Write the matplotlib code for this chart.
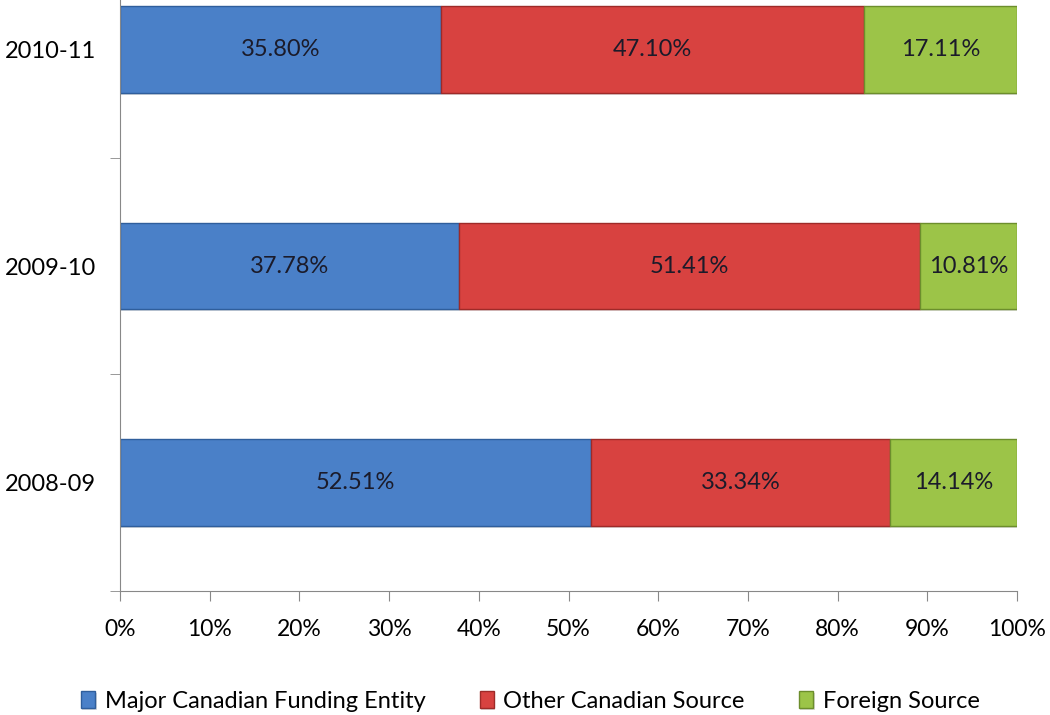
import matplotlib.pyplot as plt
import matplotlib.patheffects as pe
from matplotlib.ticker import FixedLocator, PercentFormatter

plt.rcParams['font.family'] = ['Lato', 'DejaVu Sans']

years = ['2008-09', '2009-10', '2010-11']
major_canadian = [52.51, 37.78, 35.80]
other_canadian = [33.34, 51.41, 47.10]
foreign = [14.14, 10.81, 17.11]

series = [
    ('Major Canadian Funding Entity', major_canadian, '#4a80c8', '#2f5e9c'),
    ('Other Canadian Source', other_canadian, '#d84240', '#9e2a28'),
    ('Foreign Source', foreign, '#9cc448', '#6c8e2c'),
]

fig = plt.figure(figsize=(10.5, 7.15), dpi=100)
ax = fig.add_axes([0.1143, 0.1734, 0.8543, 0.909])

pos = list(range(len(years)))
left = [0.0] * len(years)
shadow = [pe.SimplePatchShadow(offset=(1, -1.5), alpha=0.18), pe.Normal()]
for name, vals, color, edge in series:
    bars = ax.barh(pos, vals, left=left, height=0.40, color=color,
                   edgecolor=edge, linewidth=1.0, label=name)
    for b in bars:
        b.set_path_effects(shadow)
    for i, v in enumerate(vals):
        ax.text(left[i] + v / 2, pos[i], f'{v:.2f}%', ha='center', va='center',
                fontsize=17, color='#1b1b2a')
    left = [l + v for l, v in zip(left, vals)]

ax.set_xlim(0, 100)
ax.set_ylim(-0.5, 2.5)
ax.set_yticks(pos)
ax.set_yticklabels(years, fontsize=17)
ax.yaxis.set_minor_locator(FixedLocator([-0.5, 0.5, 1.5, 2.5]))
ax.tick_params(axis='y', which='major', length=0, pad=17)
ax.tick_params(axis='y', which='minor', length=7, color='#888888', direction='out')
ax.set_xticks(range(0, 101, 10))
ax.xaxis.set_major_formatter(PercentFormatter(decimals=0))
ax.tick_params(axis='x', length=7, color='#888888', labelsize=16.5, pad=13)

for side in ('top', 'right'):
    ax.spines[side].set_visible(False)
for side in ('left', 'bottom'):
    ax.spines[side].set_color('#888888')

handles, labels = ax.get_legend_handles_labels()
fig.legend(handles, labels, loc='lower center', bbox_to_anchor=(0.505, -0.025),
           ncol=3, frameon=False, fontsize=17, handlelength=0.6, handleheight=0.7,
           handletextpad=0.4, columnspacing=2.3)

fig.savefig('out.png', dpi=100)
